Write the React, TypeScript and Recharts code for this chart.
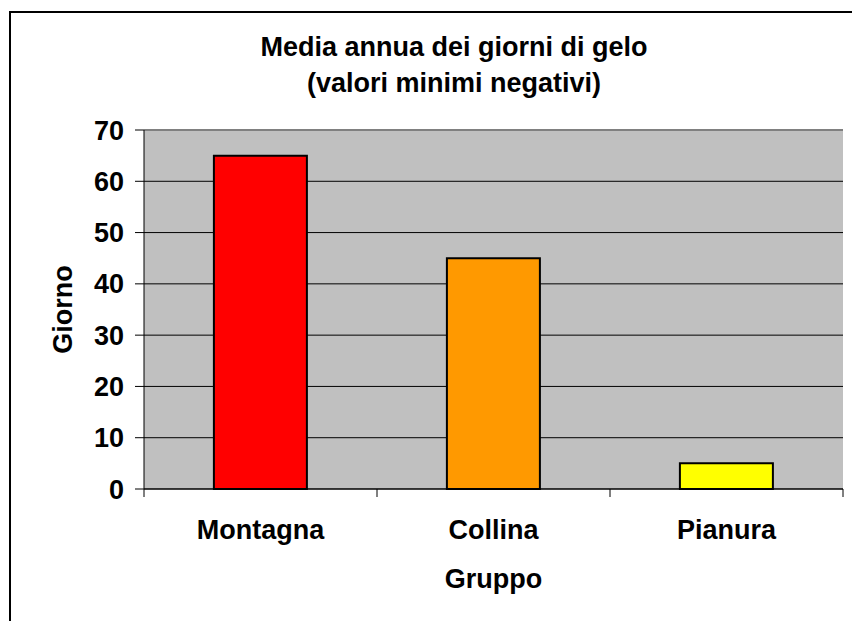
import * as React from "react";
import {
  BarChart,
  Bar,
  Cell,
  XAxis,
  YAxis,
  CartesianGrid,
  ReferenceLine,
  Label,
} from "recharts";

const GROUPS = ["Montagna", "Collina", "Pianura"];
const FROST_DAYS = [65, 45, 5];
const Y_TICKS = [0, 10, 20, 30, 40, 50, 60, 70];
const TITLE_LINES = ["Media annua dei giorni di gelo", "(valori minimi negativi)"];

const BAR_COLORS = ["#FF0000", "#FF9900", "#FFFF00"];
const FONT = "'Liberation Sans', Arial, Helvetica, sans-serif";

const data = GROUPS.map((name, i) => ({ name, value: FROST_DAYS[i] }));

const tickStyle = { fontFamily: FONT, fontSize: 27, fontWeight: 700, fill: "#000" };

// category label plus the small marks on the group boundaries (Excel style)
function GroupTick({ x, y, payload, index, visibleTicksCount }: any) {
  const half = payload?.offset ?? 0;
  const isLast = index === visibleTicksCount - 1;
  return (
    <g>
      {half > 0 && <line x1={x - half} x2={x - half} y1={y} y2={y + 8} stroke="#000" />}
      {half > 0 && isLast && (
        <line x1={x + half} x2={x + half} y1={y} y2={y + 8} stroke="#000" />
      )}
      <text x={x} y={y + 31} dy="0.71em" textAnchor="middle" style={tickStyle}>
        {payload.value}
      </text>
    </g>
  );
}

function YLabel({ viewBox }: any) {
  const cx = viewBox.x + 62.5;
  const cy = viewBox.y + viewBox.height / 2;
  return (
    <text
      x={cx}
      y={cy}
      transform={`rotate(-90 ${cx} ${cy})`}
      textAnchor="middle"
      dominantBaseline="central"
      style={tickStyle}
    >
      Giorno
    </text>
  );
}

function XLabel({ viewBox }: any) {
  return (
    <text
      x={viewBox.x + viewBox.width / 2}
      y={viewBox.y + 99}
      textAnchor="middle"
      style={tickStyle}
    >
      Gruppo
    </text>
  );
}

export default function App() {
  return (
    <div
      style={{
        position: "absolute",
        left: 0,
        top: 0,
        width: 852,
        height: 621,
        overflow: "hidden",
        background: "#fff",
      }}
    >
      <div
        style={{
          position: "absolute",
          left: 9,
          top: 11,
          width: 1000,
          height: 1000,
          border: "2px solid #000",
        }}
      />
      <div style={{ position: "absolute", left: 0, top: 0 }}>
        <BarChart
          width={852}
          height={621}
          data={data}
          margin={{ top: 130, right: 9, bottom: 0, left: 0 }}
          barCategoryGap="30%"
        >
          <CartesianGrid vertical={false} stroke="#000" fill="#C0C0C0" />
          <XAxis
            dataKey="name"
            height={132}
            interval={0}
            tickLine={false}
            tickSize={0}
            tickMargin={0}
            axisLine={{ stroke: "#000" }}
            tick={<GroupTick />}
          >
            <Label content={XLabel} />
          </XAxis>
          <YAxis
            width={144}
            domain={[0, 70]}
            ticks={Y_TICKS}
            interval={0}
            tickSize={9}
            tickMargin={11}
            axisLine={{ stroke: "#000" }}
            tickLine={{ stroke: "#000" }}
            tick={tickStyle}
          >
            <Label content={YLabel} />
          </YAxis>
          <YAxis
            yAxisId="right"
            orientation="right"
            width={0}
            domain={[0, 70]}
            tick={false}
            tickLine={false}
            axisLine={{ stroke: "#808080", strokeWidth: 2 }}
          />
          <Bar dataKey="value" stroke="#000" strokeWidth={2} isAnimationActive={false}>
            {data.map((d, i) => (
              <Cell key={d.name} fill={BAR_COLORS[i]} />
            ))}
          </Bar>
          <ReferenceLine y={70} stroke="#808080" strokeWidth={2} />
        </BarChart>
      </div>
      <div
        style={{
          position: "absolute",
          left: 0,
          top: 28.6,
          width: 908,
          textAlign: "center",
          fontFamily: FONT,
          fontSize: 27,
          fontWeight: 700,
          lineHeight: "36px",
          whiteSpace: "nowrap",
          color: "#000",
        }}
      >
        {TITLE_LINES.map((line) => (
          <div key={line}>{line}</div>
        ))}
      </div>
    </div>
  );
}
